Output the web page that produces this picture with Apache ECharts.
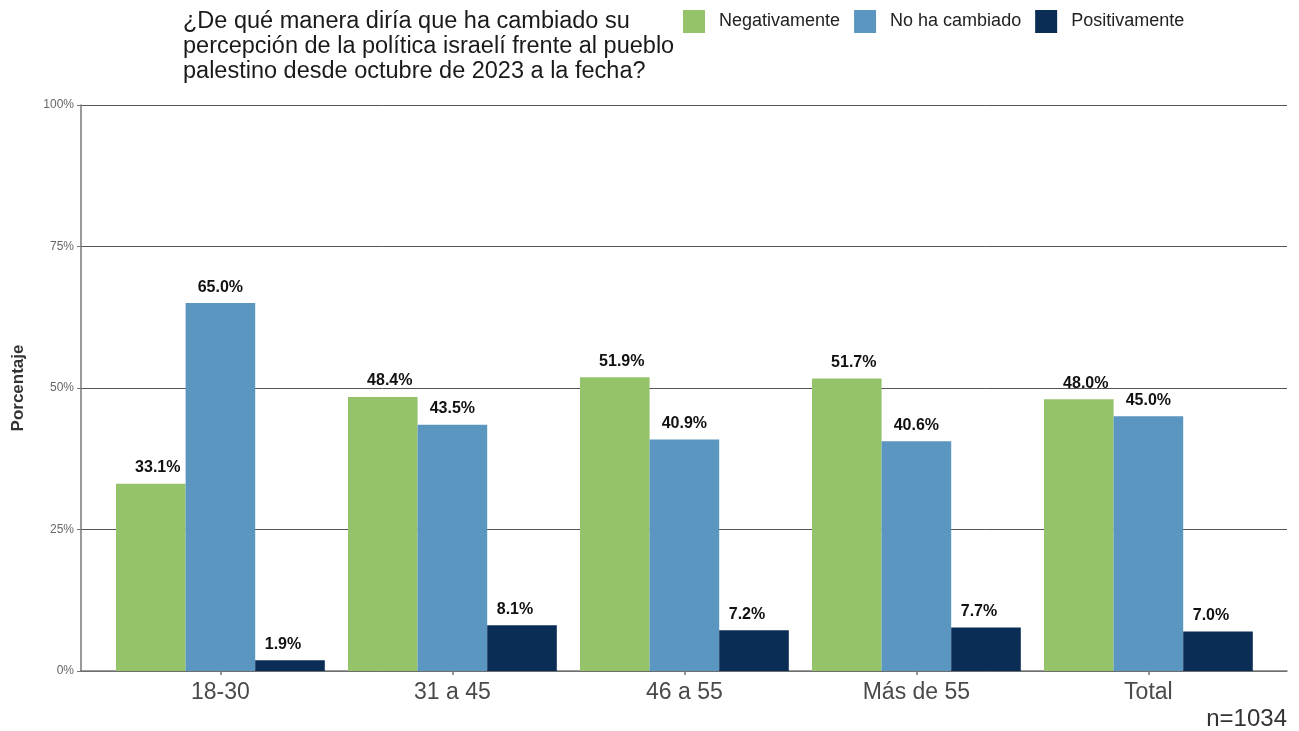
<!DOCTYPE html>
<html>
<head>
<meta charset="utf-8">
<script src="https://cdn.jsdelivr.net/npm/echarts@6/dist/echarts.min.js"></script>
<style>
html,body{margin:0;padding:0;background:#fff;}
#chart{width:1299px;height:731px;}
</style>
</head>
<body>
<div id="chart"></div>
<script>
const categories = ['18-30', '31 a 45', '46 a 55', 'Más de 55', 'Total'];
const negativamente = [33.1, 48.4, 51.9, 51.7, 48.0];
const noHaCambiado = [65.0, 43.5, 40.9, 40.6, 45.0];
const positivamente = [1.9, 8.1, 7.2, 7.7, 7.0];
const yTicks = [0, 25, 50, 75, 100];
const titleText = '¿De qué manera diría que ha cambiado su\npercepción de la política israelí frente al pueblo\npalestino desde octubre de 2023 a la fecha?';
const noteText = 'n=1034';

const FONT = '"Liberation Sans", Arial, sans-serif';
const chart = echarts.init(document.getElementById('chart'), null, {renderer: 'canvas'});

function lbl(dx) {
  return {
    show: true, position: 'top', distance: 8, offset: [dx, 0],
    formatter: p => p.value.toFixed(1) + '%',
    fontFamily: FONT, fontWeight: 'bold', fontSize: 16, color: '#111'
  };
}

const option = {
  backgroundColor: '#fff',
  animation: false,
  textStyle: {fontFamily: FONT},
  title: [
    {text: titleText, left: 183, top: 9, padding: 0,
     textStyle: {fontFamily: FONT, fontSize: 23.5, fontWeight: 'normal', color: '#1a1a1a', lineHeight: 25}},
    {text: noteText, right: 12, top: 707, padding: 0,
     textStyle: {fontFamily: FONT, fontSize: 24, fontWeight: 'normal', color: '#333'}}
  ],
  legend: {
    top: 5, left: 678, itemWidth: 22, itemHeight: 23, itemGap: 14,
    icon: 'rect',
    textStyle: {fontFamily: FONT, fontSize: 18, color: '#222', padding: [0, 0, 0, 9]},
    data: ['Negativamente', 'No ha cambiado', 'Positivamente']
  },
  grid: [
    {left: 81, right: 12, top: 105, bottom: 60},
    {left: 104.4, right: 34.6, top: 105, bottom: 60}
  ],
  xAxis: [
    {gridIndex: 0, type: 'value', min: 0, max: 1,
     axisLine: {show: true, lineStyle: {color: '#777', width: 1.5}},
     axisTick: {show: false}, axisLabel: {show: false}, splitLine: {show: false}},
    {gridIndex: 1, type: 'category', data: categories,
     axisLine: {show: false},
     axisTick: {show: true, alignWithLabel: true, length: 4, lineStyle: {color: '#777', width: 1.5}},
     axisLabel: {fontFamily: FONT, fontSize: 23, color: '#4a4a4a', margin: 10},
     splitLine: {show: false}}
  ],
  yAxis: [
    {gridIndex: 0, type: 'value', min: 0, max: 100, interval: 25,
     name: 'Porcentaje', nameLocation: 'middle', nameGap: 54, nameRotate: 90,
     nameTextStyle: {fontFamily: FONT, fontSize: 17, fontWeight: 'bold', color: '#333'},
     axisLine: {show: true, lineStyle: {color: '#777', width: 1.5}},
     axisTick: {show: true, length: 4, lineStyle: {color: '#777'}},
     axisLabel: {formatter: v => yTicks.includes(v) ? v + '%' : '', fontFamily: FONT, fontSize: 12, color: '#666', margin: 7},
     splitLine: {show: true, lineStyle: {color: '#555', width: 1}}},
    {gridIndex: 1, type: 'value', min: 0, max: 100, interval: 25, show: false}
  ],
  series: [
    {name: 'Negativamente', type: 'bar', xAxisIndex: 1, yAxisIndex: 1, data: negativamente,
     itemStyle: {color: '#94C36A'}, barGap: '0%', barCategoryGap: '10%', label: lbl(7)},
    {name: 'No ha cambiado', type: 'bar', xAxisIndex: 1, yAxisIndex: 1, data: noHaCambiado,
     itemStyle: {color: '#5A96C0'}, barGap: '0%', barCategoryGap: '10%', label: lbl(0)},
    {name: 'Positivamente', type: 'bar', xAxisIndex: 1, yAxisIndex: 1, data: positivamente,
     itemStyle: {color: '#0A2D55'}, barGap: '0%', barCategoryGap: '10%', label: lbl(-7)}
  ]
};
chart.setOption(option);
</script>
</body>
</html>
